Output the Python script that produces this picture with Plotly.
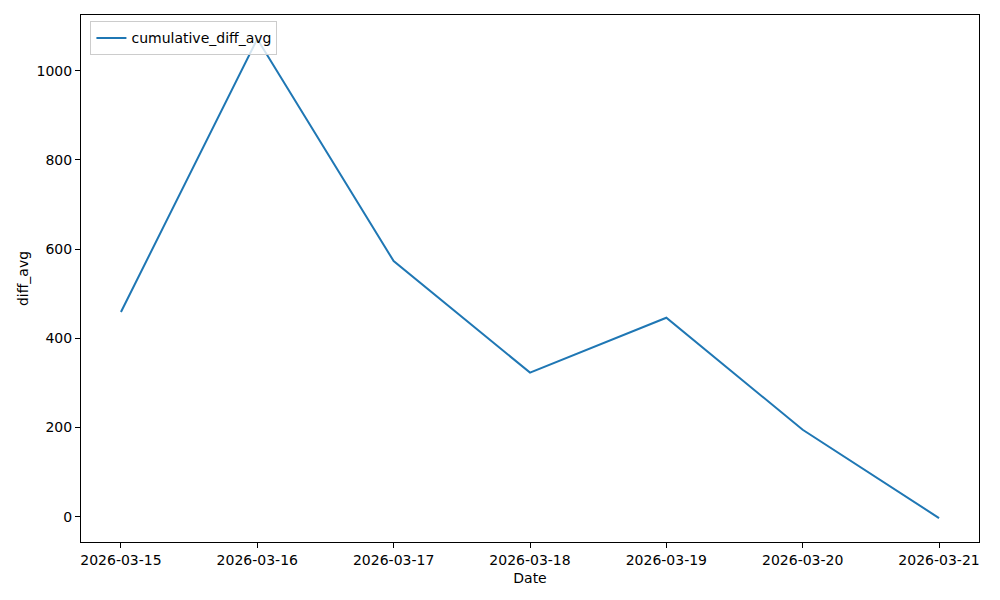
import plotly.graph_objects as go

# data
dates = ["2026-03-15", "2026-03-16", "2026-03-17", "2026-03-18",
         "2026-03-19", "2026-03-20", "2026-03-21"]
diff_avg = [459, 1071, 573, 323, 446, 195, -3]

fig = go.Figure()

fig.add_trace(go.Scatter(
    x=dates,
    y=diff_avg,
    mode="lines",
    name="cumulative_diff_avg",
    line=dict(color="#1f77b4", width=2)
))

axis_style = dict(
    showgrid=False,
    zeroline=False,
    showline=True,
    linecolor="black",
    linewidth=1,
    mirror=True,
    ticks="outside",
    ticklen=5,
    tickcolor="black",
    tickfont=dict(size=14, color="black"),
)

# page body has an 8px margin, so the figure is shrunk to fit the window
fig.update_layout(
    width=992,
    height=592,
    margin=dict(l=73, r=21, t=7, b=58),
    paper_bgcolor="white",
    plot_bgcolor="white",
    font=dict(family="DejaVu Sans", size=14, color="black"),
    showlegend=True,
    legend=dict(
        x=0.0,
        y=0.988,
        xanchor="left", yanchor="top",
        bgcolor="rgba(255,255,255,0.8)",
        bordercolor="#cccccc",
        borderwidth=1,
        font=dict(size=14),
        tracegroupgap=0,
    ),
)

fig.update_xaxes(
    title=dict(text="Date", standoff=6, font=dict(size=14)),
    type="date",
    range=["2026-03-14 16:58", "2026-03-21 07:02"],
    dtick=86400000,
    tick0="2026-03-15",
    tickformat="%Y-%m-%d",
    **axis_style
)

fig.update_yaxes(
    title=dict(text="diff_avg", standoff=4, font=dict(size=14)),
    range=[-56.7, 1124.7],
    tickvals=[0, 200, 400, 600, 800, 1000],
    **axis_style
)

fig.update_layout(legend_x=0.0105)

fig.write_html("out.html")
